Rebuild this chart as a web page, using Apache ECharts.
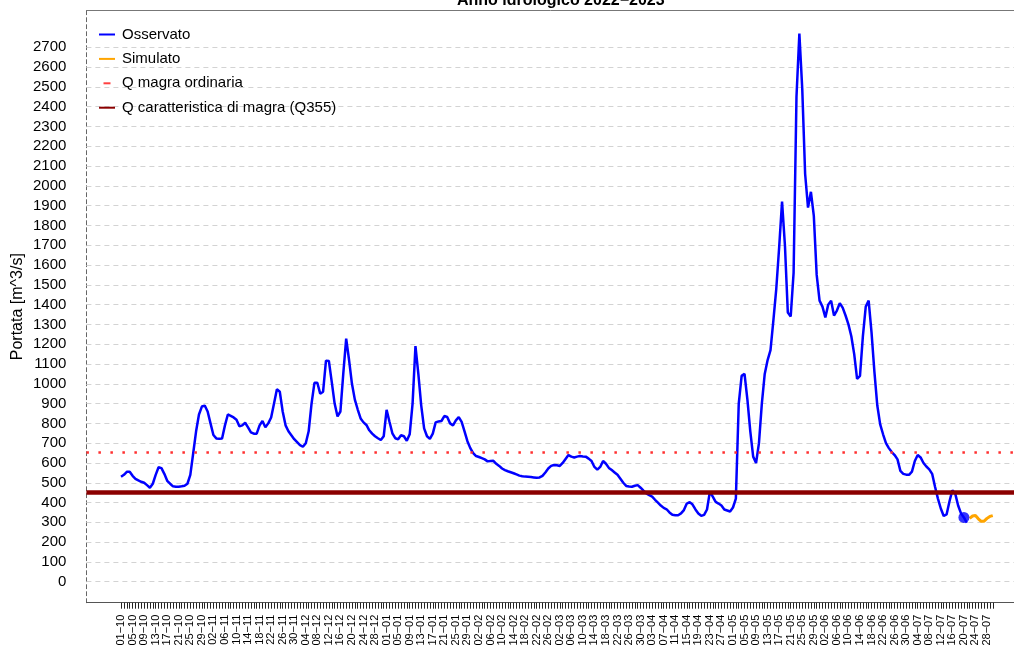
<!DOCTYPE html>
<html>
<head>
<meta charset="utf-8">
<script src="https://cdn.jsdelivr.net/npm/echarts@6/dist/echarts.min.js"></script>
<style>
  html, body { margin: 0; padding: 0; background: #fff; }
  #main { width: 1014px; height: 655px; }
</style>
</head>
<body>
<div id="main"></div>
<script>
// mesi dell'anno idrologico (ottobre 2022 - luglio 2023)
var months = [['10', 31], ['11', 30], ['12', 31], ['01', 31], ['02', 28], ['03', 31], ['04', 30], ['05', 31], ['06', 30], ['07', 30]];
var dates = [];
months.forEach(function (m) {
    for (var d = 1; d <= m[1]; d++) {
        dates.push((d < 10 ? '0' + d : '' + d) + '\u2212' + m[0]);
    }
});

// portata osservata giornaliera dal 01-10
var observed = [
    530, 540, 555, 556, 535, 520, 512, 505, 500, 488,
    475, 495, 540, 578, 574, 545, 510, 495, 482, 480,
    480, 482, 485, 495, 540, 649, 760, 845, 885, 890,
    860, 800, 741, 724, 722, 724, 790, 845, 838, 830,
    818, 785, 790, 803, 780, 755, 748, 748, 790, 812,
    780, 800, 830, 900, 972, 960, 860, 790, 760, 740,
    720, 705, 690, 682, 700, 760, 900, 1005, 1005, 950,
    960, 1117, 1115, 1010, 900, 835, 860, 1053, 1228, 1120,
    1000, 920, 870, 825, 805, 792, 765, 748, 735, 725,
    716, 735, 868, 808, 750, 725, 720, 740, 735, 712,
    745, 900, 1190, 1050, 890, 775, 735, 722, 748, 805,
    810, 812, 837, 832, 800, 790, 815, 832, 808, 760,
    710, 675, 650, 635, 630, 624, 618, 608, 610, 611,
    596, 585, 572, 564, 558, 553, 548, 542, 536, 533,
    531, 530, 529, 527, 525, 527, 535, 552, 572, 585,
    590, 588, 585, 600, 620, 640, 632, 628, 632, 635,
    633, 632, 622, 610, 580, 566, 580, 610, 596, 575,
    564, 552, 540, 520, 500, 484, 481, 480, 485, 488,
    475, 460, 446, 437, 430, 414, 400, 385, 373, 366,
    350, 338, 336, 336, 345, 362, 395, 402, 390, 365,
    345, 333, 338, 365, 455, 430, 403, 395, 385, 365,
    360, 355, 375, 420, 900, 1040, 1050, 920, 760, 632,
    600, 700, 900, 1050, 1120, 1170, 1320, 1480, 1690, 1920,
    1700, 1360, 1340, 1560, 2450, 2770, 2490, 2060, 1890, 1970,
    1850, 1550, 1420, 1390, 1335, 1400, 1420, 1345, 1370, 1407,
    1385, 1345, 1300, 1240, 1150, 1025, 1040, 1240, 1390, 1420,
    1260, 1060, 890, 795, 745, 700, 675, 655, 640, 618,
    560, 545, 541, 540, 556, 610, 640, 628, 600, 582,
    568, 545, 480, 420, 370, 332, 340, 405, 462, 445,
    385, 345, 325, 298
];
var lastObsDay = 292;
var lastObsValue = 325;

// portata simulata
var simStart = 294;
var simulated = [320, 332, 335, 318, 305, 306, 320, 330, 334];

// soglie
var qMagraOrdinaria = 652;
var q355 = 450;

var yTicks = [0, 100, 200, 300, 400, 500, 600, 700, 800, 900, 1000, 1100, 1200, 1300,
    1400, 1500, 1600, 1700, 1800, 1900, 2000, 2100, 2200, 2300, 2400, 2500, 2600, 2700];

var tickIdx = [];
var labelIdx = [];
for (var i = 0; i < dates.length; i++) {
    tickIdx.push(i);
    if (i % 4 === 0) labelIdx.push(i);
}

var myChart = echarts.init(document.getElementById('main'));

var option = {
    animation: false,
    textStyle: { fontFamily: 'Liberation Sans, Arial, sans-serif' },
    title: {
        text: 'Anno idrologico 2022\u22122023',
        left: 452,
        top: -12,
        textStyle: { fontSize: 16, fontWeight: 'bold', color: '#000' }
    },
    legend: {
        orient: 'vertical',
        left: 94,
        top: 22,
        itemWidth: 16,
        itemHeight: 2,
        itemGap: 9.4,
        icon: 'rect',
        textStyle: { fontSize: 15, color: '#000', padding: [0, 0, 0, 2] },
        data: [
            { name: 'Osservato', itemStyle: { color: '#0000ff' } },
            { name: 'Simulato', itemStyle: { color: '#ffa500' } },
            { name: 'Q magra ordinaria', icon: 'path://M0,0h7v2h-7z', itemStyle: { color: '#ff4040' } },
            { name: 'Q caratteristica di magra (Q355)', itemStyle: { color: '#8b0000' } }
        ]
    },
    grid: { left: 86.4, top: 10.7, width: 941, height: 592, containLabel: false, outerBoundsMode: 'none' },
    xAxis: [{
        type: 'value',
        min: -12,
        max: 314,
        position: 'bottom',
        axisLine: { show: true, onZero: false, lineStyle: { color: '#555', width: 1 } },
        axisTick: { show: true, customValues: tickIdx, length: 6, lineStyle: { color: '#222', width: 1 } },
        axisLabel: {
            customValues: labelIdx,
            rotate: 90,
            fontSize: 11,
            color: '#000',
            margin: 12,
            formatter: function (v) { return dates[v] || ''; }
        },
        splitLine: { show: false }
    }, {
        type: 'value',
        min: -12,
        max: 314,
        position: 'top',
        axisLine: { show: true, onZero: false, lineStyle: { color: '#777', width: 1 } },
        axisTick: { show: false },
        axisLabel: { show: false },
        splitLine: { show: false }
    }],
    yAxis: {
        type: 'value',
        min: -106,
        max: 2885,
        name: 'Portata [m^3/s]',
        nameLocation: 'middle',
        nameGap: 61,
        nameMoveOverlap: false,
        nameTextStyle: { fontSize: 16, color: '#000' },
        axisLine: { show: true, onZero: false, lineStyle: { color: '#666', type: [4, 3], width: 1 } },
        axisTick: { show: false },
        axisLabel: {
            customValues: yTicks,
            fontSize: 15,
            color: '#000',
            margin: 20,
            formatter: function (v) { return String(v); }
        },
        splitLine: { show: false }
    },
    series: [{
        name: 'griglia',
        type: 'line',
        data: [],
        markLine: {
            silent: true,
            symbol: ['none', 'none'],
            z: 1,
            label: { show: false },
            lineStyle: { color: '#d3d3d3', type: [5, 4], width: 1 },
            data: yTicks.map(function (v) { return { yAxis: v }; })
        }
    }, {
        name: 'Osservato',
        type: 'line',
        data: observed.map(function (v, i) { return [i, v]; }),
        showSymbol: false,
        color: '#0000ff',
        lineStyle: { color: '#0000ff', width: 2.5 },
        z: 3
    }, {
        name: 'ultima osservazione',
        type: 'scatter',
        data: [[lastObsDay, lastObsValue]],
        symbolSize: 11,
        itemStyle: { color: '#0000ff' },
        z: 4
    }, {
        name: 'Simulato',
        type: 'line',
        data: simulated.map(function (v, i) { return [simStart + i, v]; }),
        showSymbol: false,
        color: '#ffa500',
        lineStyle: { color: '#ffa500', width: 3 },
        z: 3
    }, {
        name: 'Q magra ordinaria',
        type: 'line',
        data: [],
        color: '#ff4040',
        markLine: {
            silent: true,
            symbol: ['none', 'none'],
            z: 5,
            label: { show: false },
            lineStyle: { color: '#ff3030', type: [2.5, 9.5], width: 2.5 },
            data: [{ yAxis: qMagraOrdinaria }]
        }
    }, {
        name: 'Q caratteristica di magra (Q355)',
        type: 'line',
        data: [],
        color: '#8b0000',
        markLine: {
            silent: true,
            symbol: ['none', 'none'],
            z: 5,
            label: { show: false },
            lineStyle: { color: '#8b0000', type: 'solid', width: 4.5 },
            data: [{ yAxis: q355 }]
        }
    }]
};

myChart.setOption(option);
</script>
</body>
</html>
